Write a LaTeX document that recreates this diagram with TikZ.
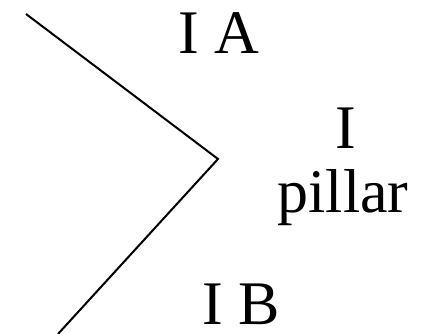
\documentclass[tikz,border=0pt]{standalone}
\usepackage{fontspec}
\setmainfont{Liberation Serif}
\begin{document}
\begin{tikzpicture}[x=1pt,y=1pt,
  lbl/.style={inner sep=0pt, anchor=base, font=\fontsize{62}{70}\selectfont},
  edge/.style={line width=2pt, line join=miter}]
\useasboundingbox (0,0) rectangle (432,334);
\coordinate (top) at (26,320);
\coordinate (apex) at (218,175);
\coordinate (bot) at (58,0);
\draw[edge] (top) -- (apex) -- (bot);
\node[lbl] (ia) at (218.5,280) {I A};
\node[lbl] (i) at (346,185) {I};
\node[lbl] (pillar) at (343,121) {pillar};
\node[lbl] (ib) at (241,9) {I B};
\end{tikzpicture}
\end{document}
